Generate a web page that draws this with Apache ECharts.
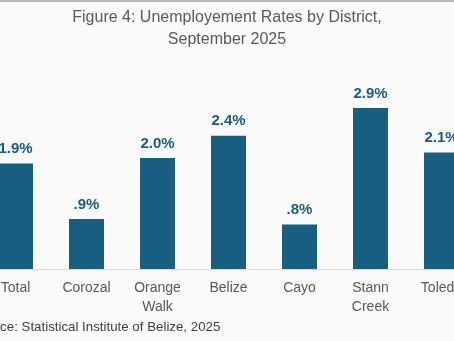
<!DOCTYPE html>
<html>
<head>
<meta charset="utf-8">
<script src="https://cdn.jsdelivr.net/npm/echarts@6/dist/echarts.min.js"></script>
<style>
  html, body { margin: 0; padding: 0; background: #fafafa; overflow: hidden; width: 454px; height: 341px; }
  /* the plot runs past both edges of the frame, so the canvas is wider and shifted left */
  #chart { width: 497px; height: 341px; margin-left: -20px; }
</style>
</head>
<body>
<div id="chart"></div>
<script>
// Unemployment rate (%) by district, September 2025
const districts = ['Total', 'Corozal', 'Orange\nWalk', 'Belize', 'Cayo', 'Stann\nCreek', 'Toledo'];
const rates = [1.9, 0.9, 2.0, 2.4, 0.8, 2.9, 2.1];

const titleText = 'Figure 4: Unemployement Rates by District,\nSeptember 2025';
const sourceText = 'Source: Statistical Institute of Belize, 2025';

const FONT = '"Liberation Sans", Arial, sans-serif';
const SHIFT = 20; // canvas offset to the left of the visible frame

// ".9%" style: drop the leading zero for values under one
function fmtRate(v) {
  let s = v.toFixed(1);
  if (s.startsWith('0')) s = s.slice(1);
  return s + '%';
}

const chart = echarts.init(document.getElementById('chart'), null, { renderer: 'canvas' });

chart.setOption({
  backgroundColor: '#fafafa',
  animation: false,
  grid: {
    left: 0,
    right: 0,
    top: 102.5,
    bottom: 72,
    containLabel: false
  },
  xAxis: {
    type: 'category',
    data: districts,
    axisLine: { show: true, lineStyle: { color: '#d9d9d9', width: 1 } },
    axisTick: { show: false },
    axisLabel: {
      interval: 0,
      margin: 10,
      fontFamily: FONT,
      fontSize: 14,
      lineHeight: 19,
      color: '#595959'
    }
  },
  yAxis: {
    type: 'value',
    min: 0,
    max: 3,
    show: false,
    splitLine: { show: false }
  },
  series: [{
    type: 'bar',
    data: rates,
    barWidth: 35,
    itemStyle: { color: '#175e80' },
    label: {
      show: true,
      position: 'top',
      distance: 7,
      formatter: p => fmtRate(p.value),
      fontFamily: FONT,
      fontSize: 15,
      fontWeight: 'bold',
      color: '#1b5b80'
    }
  }],
  graphic: [
    {
      type: 'rect',
      x: 0,
      y: 0,
      shape: { width: 497, height: 2 },
      style: { fill: '#b9b9b9' },
      silent: true
    },
    {
      type: 'text',
      x: 227 + SHIFT,
      y: 7,
      style: {
        text: titleText,
        fontFamily: FONT,
        fontSize: 16,
        lineHeight: 22,
        fill: '#595959',
        align: 'center',
        verticalAlign: 'top'
      },
      silent: true
    },
    {
      type: 'text',
      x: -28 + SHIFT,
      y: 327,
      style: {
        text: sourceText,
        fontFamily: FONT,
        fontSize: 13.3,
        fill: '#404040',
        verticalAlign: 'middle'
      },
      silent: true
    }
  ]
});
</script>
</body>
</html>
